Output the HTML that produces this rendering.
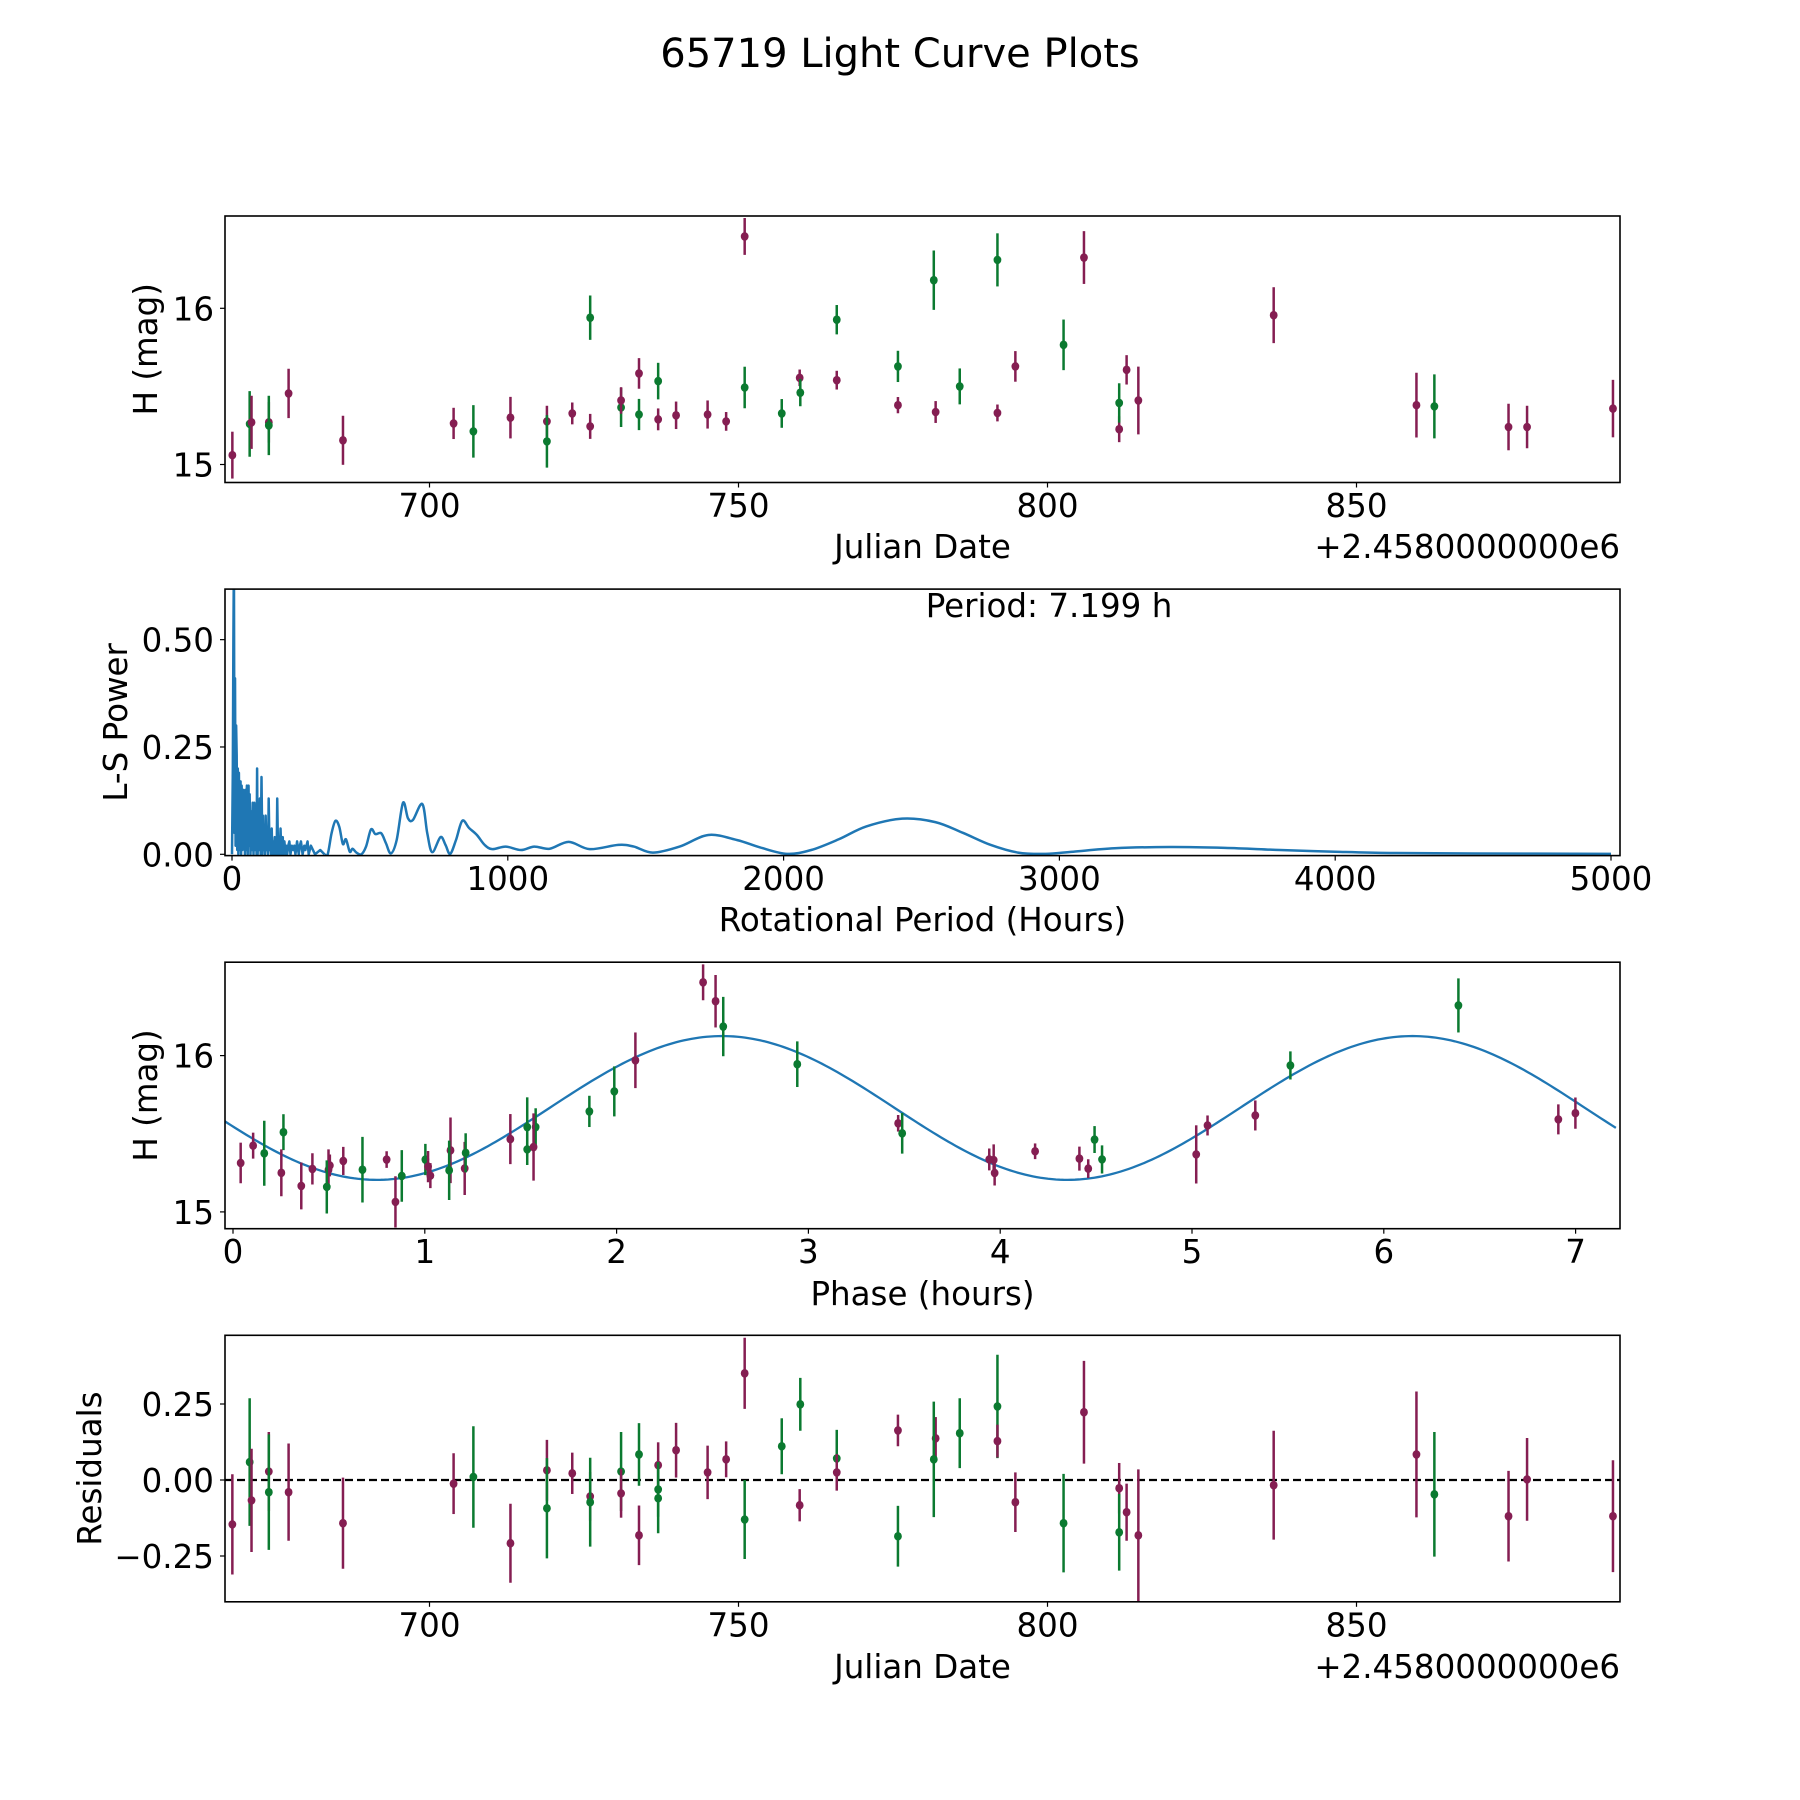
<!DOCTYPE html>
<html><head><meta charset="utf-8"><title>65719 Light Curve Plots</title>
<style>html,body{margin:0;padding:0;background:#fff}svg{display:block}text{font-family:"DejaVu Sans","Liberation Sans",sans-serif;fill:#000}</style>
</head><body>
<svg id="fig" width="1800" height="1800" viewBox="0 0 1800 1800" xmlns="http://www.w3.org/2000/svg">
<rect x="0" y="0" width="1800" height="1800" fill="#fff"/>
<text x="900" y="67" font-size="40" text-anchor="middle">65719 Light Curve Plots</text>
</svg>
<script>
// ---------- DATA ----------
const lcDate = [668.1,670.9,671.2,674.0,674.0,677.2,686.0,703.9,707.1,713.1,719.0,719.0,723.1,726.0,726.0,731.0,731.0,733.9,733.9,737.0,737.0,739.9,745.0,748.0,751.0,751.0,757.0,759.9,760.0,765.9,765.9,775.8,775.8,781.9,781.6,785.8,791.9,791.9,794.8,802.6,805.9,811.6,811.6,812.8,814.7,836.6,859.7,862.6,874.6,877.6,891.5];
const lcMag = [15.06,15.26,15.27,15.27,15.25,15.455,15.155,15.263,15.212,15.30,15.276,15.148,15.327,15.244,15.94,15.365,15.41,15.32,15.583,15.289,15.534,15.315,15.32,15.276,16.46,15.493,15.327,15.555,15.46,15.927,15.54,15.38,15.628,15.336,16.18,15.50,16.31,15.33,15.628,15.766,16.325,15.226,15.394,15.606,15.41,15.956,15.38,15.372,15.24,15.24,15.358];
const lcErr = [0.15,0.21,0.17,0.13,0.19,0.158,0.157,0.10,0.168,0.133,0.10,0.168,0.07,0.08,0.142,0.125,0.085,0.10,0.098,0.07,0.117,0.088,0.09,0.06,0.118,0.133,0.092,0.053,0.087,0.094,0.06,0.052,0.10,0.07,0.19,0.115,0.17,0.054,0.098,0.162,0.169,0.083,0.126,0.094,0.217,0.179,0.207,0.205,0.149,0.136,0.184];
const lcFilter = ["m","g","m","m","g","m","m","m","g","m","m","g","m","m","g","g","m","g","m","m","g","m","m","m","m","g","g","m","g","g","m","m","g","m","g","g","g","m","m","g","m","m","g","m","m","m","m","g","m","m","m"];

const noisePeriod = [0,3,5,7,9,11,13,15,17,19,21,23,25,28,31,33,35,38,41,44,47,49,51,54,57,60,62,64,67,70,72,75,78,81,83,86,89,91,93,96,99,101,104,107,110,112,114,117,120,122,125,128,131,133,136,139,142,144,146,149,152,155,157,160,162,164,167,170,173,176,179,182,184,186,190,194,197,200,204,208,212,217,222,226,230,236,242,246,250,256,262,266,270,274,278,286,301,320,335];
const noisePower = [0,0.2,0.5,0.7,0.05,0.41,0.02,0.3,0.23,0.01,0.2,0.0,0.19,0.01,0.17,0.0,0.16,0.01,0.15,0.14,0.0,0.15,0.01,0.16,0.0,0.16,0.02,0.14,0.0,0.1,0.01,0.12,0.0,0.12,0.01,0.10,0.0,0.20,0.0,0.08,0.01,0.13,0.0,0.18,0.0,0.09,0.01,0.06,0.0,0.09,0.01,0.03,0.0,0.13,0.01,0.03,0.0,0.06,0.0,0.03,0.0,0.04,0.0,0.02,0.0,0.13,0.0,0.02,0.0,0.06,0.0,0.02,0.04,0.0,0.03,0.0,0.02,0.0,0.02,0.03,0.0,0.02,0.01,0.02,0.0,0.03,0.0,0.02,0.03,0.0,0.02,0.01,0.02,0.03,0.0,0.02,0.0,0.01,0.0];
const smoothPeriod = [335,347,361,375,389,402,413,427,437,451,469,486,504,520,541,558,576,597,620,638,656,690,708,726,756,774,791,812,835,860,888,916,944,992,1048,1096,1152,1221,1297,1401,1457,1526,1623,1727,1832,1915,2012,2100,2200,2300,2430,2550,2650,2750,2850,2950,3050,3200,3400,3600,3800,4000,4200,4500,5000];
const smoothPower = [0.0,0.0,0.049,0.078,0.064,0.024,0.035,0.006,0.013,0.004,0.0,0.018,0.058,0.047,0.049,0.026,0.002,0.033,0.12,0.084,0.08,0.117,0.049,0.005,0.04,0.022,0.001,0.033,0.078,0.061,0.045,0.022,0.012,0.018,0.01,0.018,0.013,0.029,0.012,0.022,0.018,0.004,0.018,0.045,0.033,0.016,0.001,0.01,0.035,0.065,0.083,0.075,0.05,0.022,0.004,0.001,0.006,0.014,0.017,0.015,0.01,0.006,0.003,0.002,0.001];

const phHours = [0.040,0.105,0.163,0.263,0.252,0.356,0.414,0.498,0.505,0.489,0.575,0.675,0.801,0.847,0.880,1.003,1.017,1.029,1.134,1.127,1.208,1.213,1.446,1.534,1.534,1.578,1.567,1.858,1.988,2.098,2.451,2.516,2.556,2.942,3.468,3.489,3.943,3.966,3.971,4.182,4.413,4.459,4.492,4.531,5.022,5.081,5.330,5.513,6.389,6.910,6.999];
const phMag = [15.313,15.424,15.375,15.51,15.25,15.166,15.275,15.27,15.297,15.16,15.326,15.27,15.335,15.064,15.23,15.335,15.29,15.232,15.394,15.266,15.278,15.378,15.466,15.543,15.40,15.543,15.415,15.643,15.771,15.97,16.469,16.348,16.186,15.945,15.567,15.503,15.336,15.332,15.249,15.388,15.341,15.277,15.463,15.336,15.368,15.553,15.617,15.937,16.321,15.592,15.632];
const phErr = [0.13,0.083,0.208,0.115,0.15,0.15,0.10,0.13,0.07,0.17,0.09,0.21,0.053,0.164,0.165,0.10,0.10,0.08,0.21,0.19,0.17,0.125,0.16,0.19,0.1,0.12,0.215,0.10,0.16,0.178,0.115,0.168,0.19,0.146,0.053,0.13,0.07,0.1,0.08,0.05,0.077,0.06,0.086,0.09,0.186,0.064,0.096,0.09,0.173,0.096,0.10];
const phFilter = ["m","m","g","g","m","m","m","m","m","g","m","g","m","m","g","g","m","m","m","g","m","g","m","g","g","g","m","g","g","m","m","m","g","g","m","g","m","m","m","m","m","m","g","g","m","m","m","g","g","m","m"];
const fitMean = [15.665];
const fitAmp = [0.46];
const fitPeakPhase = [2.55];
const fitCycle = [3.5995];

const resDate = [668.1,670.9,671.2,674.0,674.0,677.2,686.0,703.9,707.1,713.1,719.0,719.0,723.1,726.0,726.0,731.0,731.0,733.9,733.9,737.0,737.0,737.0,739.9,745.0,748.0,751.0,751.0,757.0,759.9,760.0,765.9,765.9,775.8,775.8,781.9,781.6,785.8,791.9,791.9,794.8,802.6,805.9,811.6,811.6,812.8,814.7,836.6,859.7,862.6,874.6,877.6,891.5];
const resVal = [-0.146,0.059,-0.067,0.028,-0.04,-0.04,-0.142,-0.012,0.01,-0.208,0.032,-0.093,0.022,-0.054,-0.073,0.028,-0.044,0.084,-0.182,0.049,-0.031,-0.06,0.098,0.025,0.068,0.351,-0.13,0.111,-0.083,0.249,0.071,0.025,0.163,-0.185,0.137,0.068,0.154,0.242,0.128,-0.073,-0.142,0.223,-0.027,-0.172,-0.106,-0.182,-0.017,0.084,-0.047,-0.119,0.002,-0.119];
const resErr = [0.165,0.21,0.17,0.13,0.19,0.16,0.15,0.10,0.167,0.13,0.10,0.165,0.068,0.08,0.146,0.13,0.08,0.103,0.098,0.075,0.09,0.115,0.09,0.088,0.059,0.117,0.13,0.092,0.053,0.087,0.094,0.06,0.052,0.1,0.07,0.19,0.115,0.17,0.054,0.098,0.162,0.169,0.083,0.126,0.094,0.217,0.179,0.207,0.205,0.149,0.136,0.184];
const resFilter = ["m","g","m","m","g","m","m","m","g","m","m","g","m","m","g","g","m","g","m","m","g","g","m","m","m","m","g","g","m","g","g","m","m","g","m","g","g","g","m","m","g","m","m","g","m","m","m","m","g","m","m","m"];

const dateTicks = [700,750,800,850];
const magTicks = [15,16];
const powTicks = [0,0.25,0.5];
const powTickLabels = ["0.00","0.25","0.50"];
const perTicks = [0,1000,2000,3000,4000,5000];
const phaseTicks = [0,1,2,3,4,5,6,7];
const resTicks = [-0.25,0,0.25];
const resTickLabels = ["\u22120.25","0.00","0.25"];

// ---------- RENDER ----------
const NS = "http://www.w3.org/2000/svg";
const svg = document.getElementById('fig');
const COL = {m:"#851e52", g:"#0b7a30"};
const FS = 32.5;
const AX_L = 225, AX_R = 1620, AX_H = 266.5;
const tops = [216, 589.1, 962.2, 1335.3];
function el(tag, attrs, parent){ const e=document.createElementNS(NS,tag); for(const k in attrs) e.setAttribute(k,attrs[k]); (parent||svg).appendChild(e); return e; }

const xDate = d => 429.5 + (d-700)*6.18;
const yMag1 = m => 308.3 - (m-16)*156.2;
const xPer = p => 232 + p*0.2758;
const yPow = v => 854.3 - v*429.3;
const xPh = h => 233 + h*191.8;
const yMag3 = m => 1055.6 - (m-16)*156.3;
const yRes = r => 1480 - r*304;

function panel(i, name){
  const g = el('g',{});
  
  
  const cp = el('clipPath',{id:'clip'+i}, g);
  el('rect',{x:AX_L,y:tops[i],width:AX_R-AX_L,height:AX_H}, cp);
  const plot = el('g',{'clip-path':'url(#clip'+i+')'}, g);
  
  
  return {g, plot};
}
function frame(g, i){
  const r = el('rect',{x:AX_L,y:tops[i],width:AX_R-AX_L,height:AX_H,fill:'none',stroke:'#000','stroke-width':1.6}, g);
  
  
}
function xticks(g, i, vals, labels, fx){
  const yb = tops[i]+AX_H;
  vals.forEach((v,k)=>{
    const x = fx(v);
    el('line',{x1:x,y1:yb,x2:x,y2:yb+5,stroke:'#000','stroke-width':1.2}, g);
    const t = el('text',{x:x,y:yb+34.5,'font-size':FS,'text-anchor':'middle'}, g);
    
    
    t.textContent = labels[k];
  });
}
function yticks(g, vals, labels, fy){
  vals.forEach((v,k)=>{
    const y = fy(v);
    el('line',{x1:AX_L-5,y1:y,x2:AX_L,y2:y,stroke:'#000','stroke-width':1.2}, g);
    const t = el('text',{x:AX_L-11,y:y+12,'font-size':FS,'text-anchor':'end'}, g);
    
    
    t.textContent = labels[k];
  });
}
function xlabel(g, txt, y, name){
  const t = el('text',{x:(AX_L+AX_R)/2,y:y,'font-size':FS,'text-anchor':'middle'}, g);
  
  
  t.textContent = txt;
}
function ylabel(g, i, txt, x, name){
  const cy = tops[i]+AX_H/2;
  const t = el('text',{x:x,y:cy,'font-size':FS,'text-anchor':'middle','transform':'rotate(-90 '+x+' '+cy+')'}, g);
  
  
  t.textContent = txt;
}
function offsetText(g, y){
  const t = el('text',{x:AX_R,y:y,'font-size':FS,'text-anchor':'end'}, g);
  
  
  t.textContent = '+2.4580000000e6';
}
function errPoints(plot, xs, ys, es, fs, fx, fy, name){
  xs.forEach((xv,k)=>{
    const c = COL[fs[k]];
    const x = fx(xv);
    const ln = el('line',{x1:x,y1:fy(ys[k]-es[k]),x2:x,y2:fy(ys[k]+es[k]),stroke:c,'stroke-width':2.5}, plot);
    
    
    const d = el('ellipse',{cx:x,cy:fy(ys[k]),rx:3.9,ry:4.3,fill:c}, plot);
    
    
  });
}
function smoothPath(pts){
  let d = 'M'+pts[0][0].toFixed(2)+','+pts[0][1].toFixed(2);
  for(let i=0;i<pts.length-1;i++){
    const p0=pts[Math.max(0,i-1)], p1=pts[i], p2=pts[i+1], p3=pts[Math.min(pts.length-1,i+2)];
    const c1=[p1[0]+(p2[0]-p0[0])/6, p1[1]+(p2[1]-p0[1])/6];
    const c2=[p2[0]-(p3[0]-p1[0])/6, p2[1]-(p3[1]-p1[1])/6];
    d += 'C'+c1[0].toFixed(2)+','+c1[1].toFixed(2)+' '+c2[0].toFixed(2)+','+c2[1].toFixed(2)+' '+p2[0].toFixed(2)+','+p2[1].toFixed(2);
  }
  return d;
}

// Panel 1
{
  const {g, plot} = panel(0,'light-curve-panel');
  errPoints(plot, lcDate, lcMag, lcErr, lcFilter, xDate, yMag1, 'light-curve');
  frame(g,0);
  xticks(g,0,dateTicks,dateTicks.map(String),xDate);
  yticks(g,magTicks,magTicks.map(String),yMag1);
  xlabel(g,'Julian Date',558,'x-axis-title-julian-date');
  offsetText(g,558);
  ylabel(g,0,'H (mag)',157,'y-axis-title-h-mag');
}
// Panel 2
{
  const {g, plot} = panel(1,'periodogram-panel');
  const npts = noisePeriod.map((p,k)=> xPer(p).toFixed(2)+','+yPow(noisePower[k]).toFixed(2)).join(' ');
  const pl = el('polyline',{points:npts,fill:'none',stroke:'#1f77b4','stroke-width':2.5,'stroke-linejoin':'round'}, plot);
  
  
  const sp = el('path',{d:smoothPath(smoothPeriod.map((p,k)=>[xPer(p), yPow(smoothPower[k])])),fill:'none',stroke:'#1f77b4','stroke-width':2.5}, plot);
  
  
  frame(g,1);
  xticks(g,1,perTicks,perTicks.map(String),xPer);
  yticks(g,powTicks,powTickLabels,yPow);
  xlabel(g,'Rotational Period (Hours)',931,'x-axis-title-rotational-period');
  ylabel(g,1,'L-S Power',127,'y-axis-title-ls-power');
  const t = el('text',{x:1049,y:617,'font-size':FS,'text-anchor':'middle'}, g);
  
  
  t.textContent = 'Period: 7.199 h';
}
// Panel 3
{
  const {g, plot} = panel(2,'phase-panel');
  const fitX = []; for(let h=-0.05; h<=7.22; h+=0.02) fitX.push(h);
  const pts = fitX.map(h=> xPh(h).toFixed(2)+','+yMag3(fitMean[0]+fitAmp[0]*Math.cos(2*Math.PI*(h-fitPeakPhase[0])/fitCycle[0])).toFixed(2)).join(' ');
  const pl = el('polyline',{points:pts,fill:'none',stroke:'#1f77b4','stroke-width':2.3}, plot);
  
  
  errPoints(plot, phHours, phMag, phErr, phFilter, xPh, yMag3, 'phase');
  frame(g,2);
  xticks(g,2,phaseTicks,phaseTicks.map(String),xPh);
  yticks(g,magTicks,magTicks.map(String),yMag3);
  xlabel(g,'Phase (hours)',1305,'x-axis-title-phase');
  ylabel(g,2,'H (mag)',157,'y-axis-title-h-mag-phase');
}
// Panel 4
{
  const {g, plot} = panel(3,'residuals-panel');
  const zl = el('line',{x1:AX_L,y1:yRes(0),x2:AX_R,y2:yRes(0),stroke:'#000','stroke-width':2.2,'stroke-dasharray':'8,4'}, plot);
  
  
  errPoints(plot, resDate, resVal, resErr, resFilter, xDate, yRes, 'residual');
  frame(g,3);
  xticks(g,3,dateTicks,dateTicks.map(String),xDate);
  yticks(g,resTicks,resTickLabels,yRes);
  xlabel(g,'Julian Date',1678,'x-axis-title-julian-date-residuals');
  offsetText(g,1678);
  ylabel(g,3,'Residuals',101,'y-axis-title-residuals');
}
</script>
</body></html>
